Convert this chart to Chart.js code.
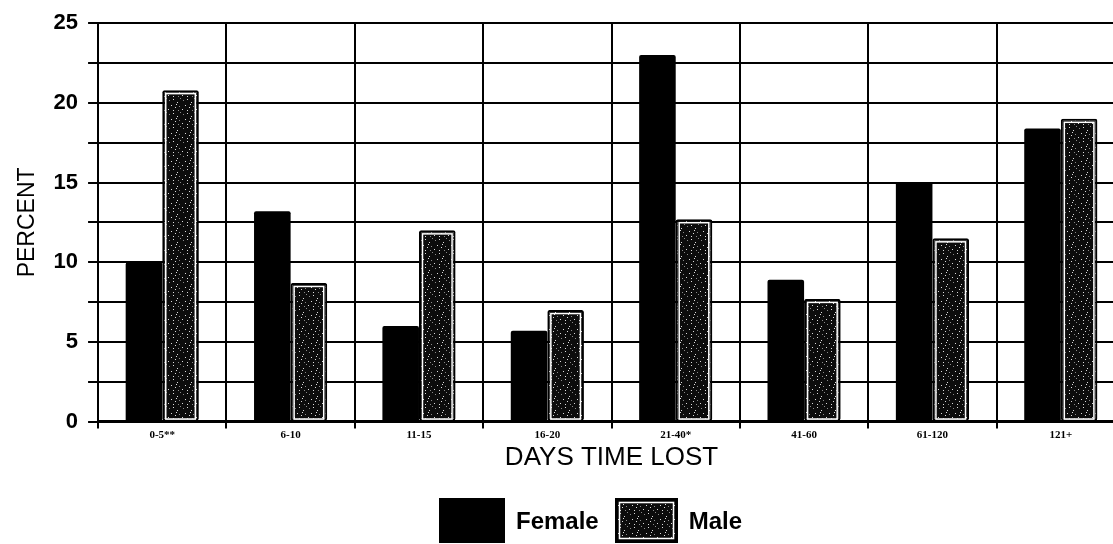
<!DOCTYPE html>
<html>
<head>
<meta charset="utf-8">
<script src="https://cdn.jsdelivr.net/npm/chart.js@4/dist/chart.umd.min.js"></script>
<style>
  html, body { margin: 0; padding: 0; background: #fff; overflow: hidden; }
  #wrap { position: relative; width: 1126px; height: 544px; }
  #legend { position: absolute; left: 439px; top: 498px; height: 45px; display: flex; align-items: center;
            font-family: 'Liberation Sans', Arial, sans-serif; font-weight: bold; font-size: 24px; color: #000; }
  #legend .sw { display: block; }
  #legend span { margin: 0 16px 0 11px; }
</style>
</head>
<body>
<div id="wrap">
  <canvas id="chart"></canvas>
  <div id="legend"></div>
</div>
<script>
const categories = ['0-5**', '6-10', '11-15', '16-20', '21-40*', '41-60', '61-120', '121+'];
const femaleValues = [10.0, 13.2, 6.0, 5.7, 23.0, 8.9, 15.0, 18.4];
const maleValues = [20.8, 8.7, 12.0, 7.0, 12.7, 7.7, 11.5, 19.0];
const yTicks = [0, 5, 10, 15, 20, 25];

// speckled fill for the male bars
function makeSpeckle(ctx) {
  const c = document.createElement('canvas');
  c.width = 14; c.height = 14;
  const g = c.getContext('2d');
  g.fillStyle = '#0c0c0c';
  g.fillRect(0, 0, 14, 14);
  const dots = [[1,2],[5,1],[9,4],[12,0],[3,7],[7,9],[11,8],[0,11],[5,12],[10,12],[8,6]];
  dots.forEach(([x, y], i) => {
    g.fillStyle = i % 3 === 0 ? '#8a8a8a' : '#dcdcdc';
    g.fillRect(x, y, 1, 1);
  });
  return ctx.createPattern(c, 'repeat');
}
const speckle = makeSpeckle(document.createElement('canvas').getContext('2d'));

// white inner outline on the male bars
const innerOutline = {
  id: 'innerOutline',
  afterDatasetDraw(chart, args) {
    if (args.index !== 1) return;
    const ctx = chart.ctx;
    ctx.save();
    ctx.strokeStyle = '#fff';
    ctx.lineWidth = 1.5;
    args.meta.data.forEach(bar => {
      const { x, y, base, width } = bar.getProps(['x', 'y', 'base', 'width'], true);
      ctx.strokeRect(x - width / 2 + 3.5, y + 3.5, width - 7, base - y - 5);
    });
    ctx.restore();
  }
};

const chart = new Chart(document.getElementById('chart'), {
  type: 'bar',
  data: {
    labels: categories,
    datasets: [
      {
        label: 'Female',
        data: femaleValues,
        backgroundColor: '#000',
        borderWidth: 0,
        borderRadius: 2,
        borderSkipped: 'bottom'
      },
      {
        label: 'Male',
        data: maleValues,
        backgroundColor: speckle,
        borderColor: '#000',
        borderWidth: 2,
        borderRadius: 2,
        borderSkipped: false
      }
    ]
  },
  options: {
    responsive: true,
    maintainAspectRatio: false,
    animation: false,
    layout: { padding: { top: 10, right: 1, bottom: 71, left: 14 } },
    categoryPercentage: 0.57,
    barPercentage: 1.0,
    plugins: {
      tooltip: { enabled: false },
      legend: { display: false }
    },
    scales: {
      x: {
        grid: { color: '#000', lineWidth: 2, tickLength: 7, offset: true },
        border: { color: '#000', width: 3 },
        ticks: {
          color: '#000',
          padding: 0,
          font: { family: 'Liberation Serif', size: 11, weight: 'bold' }
        },
        title: {
          display: true,
          text: 'DAYS TIME LOST',
          color: '#000',
          padding: { top: 0, bottom: 0 },
          font: { family: 'Liberation Sans', size: 26 }
        }
      },
      y: {
        min: 0,
        max: 25,
        grid: { color: '#000', lineWidth: 2, tickLength: 10 },
        border: { color: '#000', width: 2 },
        ticks: {
          stepSize: 2.5,
          color: '#000',
          padding: 10,
          font: { family: 'Liberation Sans', size: 22, weight: 'bold' },
          callback: v => yTicks.includes(v) ? v : ''
        },
        title: {
          display: true,
          text: 'PERCENT',
          color: '#000',
          padding: { top: 0, bottom: 2 },
          font: { family: 'Liberation Sans', size: 23 }
        }
      }
    }
  },
  plugins: [innerOutline]
});

// legend built from the datasets
const legend = document.getElementById('legend');
chart.data.datasets.forEach((ds, i) => {
  const sw = document.createElement('canvas');
  sw.className = 'sw';
  sw.width = i === 0 ? 66 : 63;
  sw.height = 45;
  const g = sw.getContext('2d');
  g.fillStyle = ds.backgroundColor;
  g.fillRect(0, 0, sw.width, sw.height);
  if (i === 1) {
    g.strokeStyle = '#000'; g.lineWidth = 3;
    g.strokeRect(1.5, 1.5, sw.width - 3, sw.height - 3);
    g.strokeStyle = '#fff'; g.lineWidth = 1.5;
    g.strokeRect(4.5, 4.5, sw.width - 9, sw.height - 9);
  }
  legend.appendChild(sw);
  const t = document.createElement('span');
  t.textContent = ds.label;
  legend.appendChild(t);
});
</script>
</body>
</html>
